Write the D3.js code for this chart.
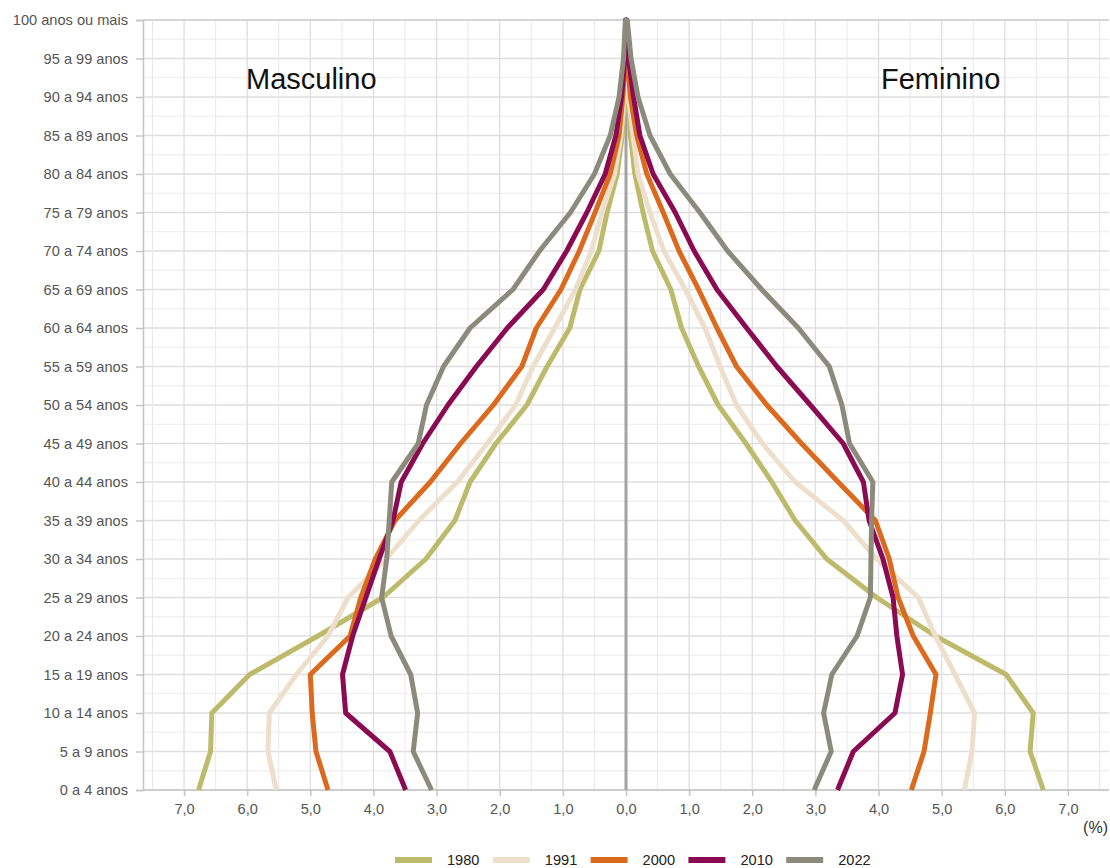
<!DOCTYPE html>
<html>
<head>
<meta charset="utf-8">
<script src="https://cdn.jsdelivr.net/npm/d3@7"></script>
<style>
  body { margin: 0; background: #fff; }
  svg { font-family: "Liberation Sans", Arial, sans-serif; }
  .tick_label { fill: #555; font-size: 14.6px; }
  .side_caption { fill: #111; font-size: 29px; }
</style>
</head>
<body>
<div id="chart"></div>
<script>
var ages = ['0 a 4 anos','5 a 9 anos','10 a 14 anos','15 a 19 anos','20 a 24 anos','25 a 29 anos',
            '30 a 34 anos','35 a 39 anos','40 a 44 anos','45 a 49 anos','50 a 54 anos','55 a 59 anos',
            '60 a 64 anos','65 a 69 anos','70 a 74 anos','75 a 79 anos','80 a 84 anos','85 a 89 anos',
            '90 a 94 anos','95 a 99 anos','100 anos ou mais'];

var years = ['1980','1991','2000','2010','2022'];
var colors = ['#bdbb6b','#eddfcc','#dc6a1e','#8b0b52','#8c8b7b'];

// percent of population, from 0 a 4 anos up to 100 anos ou mais
var male1980 = [6.77,6.58,6.56,5.96,4.88,3.85,3.17,2.71,2.47,2.06,1.57,1.25,0.89,0.73,0.43,0.30,0.14,0.06,0.02,0.008,0.002];
var male1991 = [5.54,5.67,5.65,5.22,4.72,4.40,3.80,3.28,2.67,2.20,1.75,1.47,1.13,0.80,0.55,0.38,0.18,0.08,0.03,0.01,0.003];
var male2000 = [4.72,4.91,4.97,5.00,4.37,4.20,3.97,3.66,3.10,2.62,2.10,1.65,1.42,1.03,0.74,0.49,0.25,0.11,0.05,0.015,0.004];
var male2010 = [3.49,3.74,4.44,4.49,4.33,4.12,3.91,3.69,3.56,3.22,2.82,2.37,1.88,1.31,0.94,0.62,0.33,0.16,0.07,0.02,0.005];
var male2022 = [3.08,3.37,3.30,3.41,3.72,3.87,3.79,3.75,3.71,3.29,3.16,2.89,2.47,1.79,1.37,0.88,0.50,0.25,0.11,0.04,0.01];

var female1980 = [6.61,6.40,6.45,6.02,4.90,3.97,3.18,2.68,2.31,1.90,1.46,1.15,0.88,0.71,0.42,0.27,0.14,0.07,0.03,0.01,0.003];
var female1991 = [5.36,5.48,5.52,5.21,4.90,4.63,3.97,3.44,2.68,2.16,1.75,1.49,1.25,0.94,0.60,0.38,0.19,0.11,0.04,0.01,0.003];
var female2000 = [4.52,4.72,4.82,4.91,4.55,4.31,4.17,3.95,3.36,2.78,2.23,1.75,1.44,1.15,0.84,0.59,0.33,0.17,0.07,0.02,0.005];
var female2010 = [3.35,3.60,4.26,4.38,4.29,4.23,4.07,3.85,3.76,3.44,2.92,2.39,1.91,1.44,1.08,0.78,0.43,0.22,0.12,0.04,0.01];
var female2022 = [2.98,3.25,3.13,3.26,3.66,3.87,3.88,3.89,3.91,3.54,3.42,3.22,2.73,2.15,1.61,1.17,0.70,0.38,0.19,0.08,0.02];

var xTicks = [-7,-6,-5,-4,-3,-2,-1,0,1,2,3,4,5,6,7];

var maleSeries = [male1980, male1991, male2000, male2010, male2022],
    femaleSeries = [female1980, female1991, female2000, female2010, female2022];

var width = 1110, height = 868;

var x = d3.scaleLinear().domain([-7.65, 7.65]).range([143, 1109]);
var y = d3.scalePoint().domain(ages).range([790, 20]);
var step = y.step();

var svg = d3.select("#chart").append("svg")
    .attr("width", width)
    .attr("height", height);

// grid
var grid = svg.append("g").attr("class", "grid");

grid.selectAll(".hminor")
    .data(ages.slice(0, -1))
  .enter().append("line")
    .attr("x1", x.range()[0]).attr("x2", x.range()[1])
    .attr("y1", function(d) { return y(d) - step / 2; })
    .attr("y2", function(d) { return y(d) - step / 2; })
    .attr("stroke", "#ebebeb").attr("stroke-width", 1);

grid.selectAll(".hmajor")
    .data(ages)
  .enter().append("line")
    .attr("x1", x.range()[0]).attr("x2", x.range()[1])
    .attr("y1", function(d) { return y(d); })
    .attr("y2", function(d) { return y(d); })
    .attr("stroke", "#dedede").attr("stroke-width", 1.3);

grid.selectAll(".vline")
    .data(d3.range(-15, 16).map(function(i) { return i / 2; }))
  .enter().append("line")
    .attr("x1", function(d) { return x(d); })
    .attr("x2", function(d) { return x(d); })
    .attr("y1", 20).attr("y2", 790)
    .attr("stroke", function(d) { return d % 1 == 0 ? "#dedede" : "#e8e8e8"; })
    .attr("stroke-width", function(d) { return d % 1 == 0 ? 1.3 : 1; });

// top border
svg.append("line")
    .attr("x1", x.range()[0]).attr("x2", x.range()[1])
    .attr("y1", 20).attr("y2", 20)
    .attr("stroke", "#cfcfcf").attr("stroke-width", 1.5);

// axes
var yAxis = d3.axisLeft(y).tickSize(7).tickPadding(8);
var yg = svg.append("g")
    .attr("transform", "translate(" + x.range()[0] + ",0)")
    .call(yAxis);
yg.select(".domain").attr("stroke", "#c4c4c4").attr("stroke-width", 1.5);
yg.selectAll(".tick line").attr("stroke", "#c4c4c4").attr("stroke-width", 1.5);
yg.selectAll(".tick text").attr("class", "tick_label")
    .style("font-family", "'Liberation Sans', Arial, sans-serif");

var xAxis = d3.axisBottom(x)
    .tickValues(xTicks)
    .tickSize(6)
    .tickPadding(8)
    .tickFormat(function(d) { return d3.format(".1f")(Math.abs(d)).replace(".", ","); });
var xg = svg.append("g")
    .attr("transform", "translate(0,790)")
    .call(xAxis);
xg.select(".domain").attr("stroke", "#c4c4c4").attr("stroke-width", 1.5)
    .attr("d", "M" + x.range()[0] + ",0H" + x.range()[1]);
xg.selectAll(".tick line").attr("stroke", "#c4c4c4").attr("stroke-width", 1.5);
xg.selectAll(".tick text").attr("class", "tick_label")
    .style("font-family", "'Liberation Sans', Arial, sans-serif");

svg.append("text")
    .attr("class", "tick_label")
    .attr("x", 1108).attr("y", 833)
    .attr("text-anchor", "end")
    .style("font-size", "16px")
    .style("fill", "#333")
    .text("(%)");

// center line
svg.append("line")
    .attr("x1", x(0)).attr("x2", x(0))
    .attr("y1", 20).attr("y2", 790)
    .attr("stroke", "#a3a3a3").attr("stroke-width", 3);

// lines: male side from bottom to top, then female side from top to bottom
var line = d3.line()
    .x(function(d) { return x(d[0]); })
    .y(function(d) { return y(d[1]); });

years.forEach(function(yr, k) {
    var pts = [];
    maleSeries[k].forEach(function(v, i) { pts.push([-v, ages[i]]); });
    for (var i = ages.length - 1; i >= 0; i--) pts.push([femaleSeries[k][i], ages[i]]);
    svg.append("path")
        .datum(pts)
        .attr("class", "pop_line")
        .attr("fill", "none")
        .attr("stroke", colors[k])
        .attr("stroke-width", 5)
        .attr("stroke-linejoin", "round")
        .attr("d", line);
});

// captions
svg.append("text").attr("class", "side_caption")
    .attr("x", 246).attr("y", 89).text("Masculino");
svg.append("text").attr("class", "side_caption")
    .attr("x", 881).attr("y", 89).text("Feminino");

// legend
var legend = svg.selectAll(".legend")
    .data(years)
  .enter().append("g")
    .attr("class", "legend")
    .attr("transform", function(d, i) { return "translate(" + (395 + i * 97.8) + ",860)"; });

legend.append("line")
    .attr("x1", 0).attr("x2", 37)
    .attr("y1", 0).attr("y2", 0)
    .attr("stroke", function(d, i) { return colors[i]; })
    .attr("stroke-width", 6);

legend.append("text")
    .attr("class", "tick_label")
    .attr("x", 52).attr("y", 5)
    .style("fill", "#222")
    .text(function(d) { return d; });
</script>
</body>
</html>
